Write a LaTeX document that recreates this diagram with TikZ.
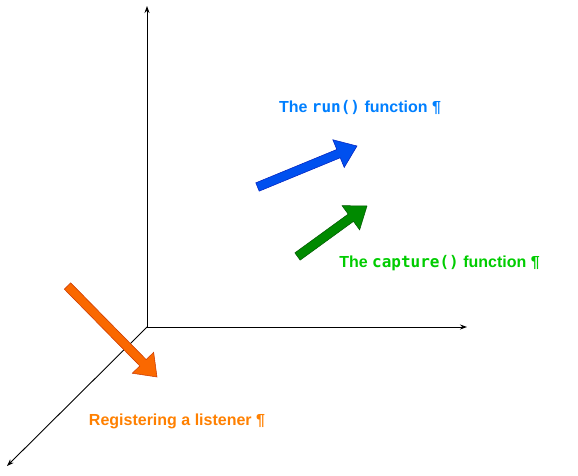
\documentclass[tikz,border=0pt]{standalone}
\usepackage{fontspec}
\setmainfont{Liberation Sans}
\setmonofont{DejaVu Sans Mono}
\usetikzlibrary{calc,arrows.meta}
\definecolor{runblue}{HTML}{007FFF}
\definecolor{capgreen}{HTML}{00CC00}
\definecolor{regorange}{HTML}{FF8000}
\definecolor{arrblue}{HTML}{0050EF}
\definecolor{arrbluedk}{HTML}{001DBC}
\definecolor{arrgreen}{HTML}{008A00}
\definecolor{arrgreendk}{HTML}{005700}
\definecolor{arrorange}{HTML}{FA6800}
\definecolor{arrorangedk}{HTML}{C73500}
\tikzset{
  axis/.style={draw=black, line width=0.9pt, -{Stealth[length=7pt,width=5pt]}},
  lbl/.style={font=\fontsize{16}{18}\selectfont\bfseries, inner sep=0pt, anchor=base},
}
\newcommand{\flexarrow}[4]{% from, to, fill, draw
  \coordinate (hb) at ($(#2)!20pt!(#1)$);
  \filldraw[fill=#3, draw=#4, line width=0.5pt, line join=miter]
    ($(#1)!4.5pt!90:(#2)$) -- ($(hb)!4.5pt!90:(#2)$) -- ($(hb)!15pt!90:(#2)$) -- (#2)
    -- ($(hb)!15pt!-90:(#2)$) -- ($(hb)!4.5pt!-90:(#2)$) -- ($(#1)!4.5pt!-90:(#2)$) -- cycle;
}
\begin{document}
\begin{tikzpicture}[x=1pt,y=-1pt]
\useasboundingbox (0,0) rectangle (578,476);
\coordinate (O) at (147,327);
\coordinate (Ytop) at (147,6);
\coordinate (Xend) at (467,327);
\coordinate (Zend) at (7,466);
\draw[axis] (O) -- (Ytop);
\draw[axis] (O) -- (Xend);
\draw[axis] (O) -- (Zend);
% arrows
\coordinate (btail) at (257.5,187);
\coordinate (btip) at (357,146);
\coordinate (gtail) at (297.5,256.5);
\coordinate (gtip) at (367,206);
\coordinate (otail) at (67.5,286);
\coordinate (otip) at (157,377);
\flexarrow{btail}{btip}{arrblue}{arrbluedk}
\flexarrow{gtail}{gtip}{arrgreen}{arrgreendk}
\flexarrow{otail}{otip}{arrorange}{arrorangedk}
% labels
\node[lbl, text=runblue] (run) at (360,113) {The \texttt{run()} function ¶};
\node[lbl, text=capgreen] (cap) at (439.5,267) {The \texttt{capture()} function ¶};
\node[lbl, text=regorange] (reg) at (177,425) {Registering a listener ¶};
\end{tikzpicture}
\end{document}
